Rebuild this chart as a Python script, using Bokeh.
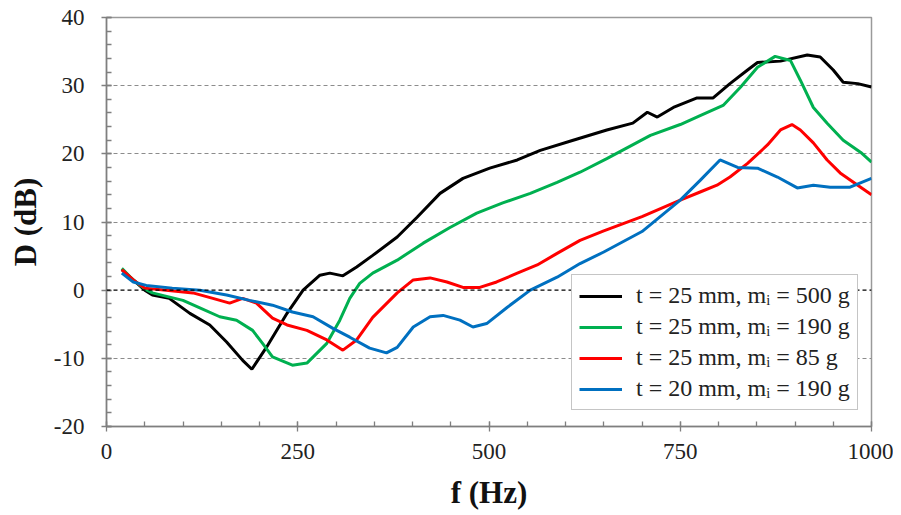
from bokeh.plotting import figure
from bokeh.models import FixedTicker, Span, Legend, LegendItem
from bokeh.embed import file_html
from bokeh.resources import INLINE

# ---- data ----
f_black = [20, 35, 50, 60, 82, 109, 135, 157, 178, 190, 209, 236, 257, 279, 292, 309, 327, 348, 380, 406,
           436, 466, 501, 537, 567, 610, 654, 688, 707, 720, 741, 772, 793, 815, 838, 851, 881, 916, 933,
           950, 963, 982, 1000]
d_black = [3.0, 1.5, 0.0, -0.7, -1.2, -3.4, -5.1, -7.6, -10.3, -11.6, -8.4, -3.4, 0.0, 2.2, 2.5, 2.1, 3.4,
           5.1, 7.8, 10.7, 14.2, 16.4, 17.9, 19.1, 20.5, 22.0, 23.5, 24.5, 26.1, 25.4, 26.8, 28.2, 28.2,
           30.3, 32.3, 33.4, 33.6, 34.5, 34.2, 32.3, 30.5, 30.3, 29.8]

f_green = [20, 35, 50, 60, 100, 122, 148, 170, 191, 204, 217, 243, 262, 288, 305, 318, 331, 348, 380, 414,
           449, 484, 518, 554, 589, 619, 654, 711, 750, 776, 806, 829, 851, 874, 894, 907, 924, 942, 963,
           986, 1000]
d_green = [3.2, 1.5, 0.2, -0.4, -1.5, -2.6, -3.9, -4.4, -5.9, -7.8, -9.8, -11.0, -10.7, -7.8, -4.4, -1.2,
           1.0, 2.5, 4.4, 6.9, 9.2, 11.3, 12.8, 14.2, 15.8, 17.3, 19.3, 22.7, 24.3, 25.6, 27.1, 29.8, 32.7,
           34.3, 33.7, 30.8, 26.8, 24.5, 22.0, 20.2, 18.8]

f_red = [20, 35, 50, 78, 113, 139, 161, 178, 196, 217, 236, 262, 288, 309, 327, 348, 380, 401, 423, 445,
         466, 488, 510, 537, 563, 589, 619, 650, 700, 750, 776, 798, 815, 838, 864, 881, 896, 907, 924,
         942, 959, 982, 1000]
d_red = [3.0, 1.5, 0.3, 0.0, -0.4, -1.2, -1.9, -1.2, -1.9, -4.1, -5.1, -5.9, -7.3, -8.8, -7.3, -4.0, -0.4,
         1.5, 1.8, 1.2, 0.4, 0.4, 1.2, 2.5, 3.7, 5.4, 7.3, 8.7, 10.8, 13.2, 14.4, 15.4, 16.6, 18.6, 21.3,
         23.5, 24.3, 23.5, 21.6, 19.1, 17.2, 15.4, 14.0]

f_blue = [20, 35, 52, 86, 122, 157, 187, 217, 243, 270, 296, 318, 344, 366, 380, 401, 423, 440, 462, 479,
          497, 524, 554, 589, 619, 650, 700, 750, 776, 802, 825, 851, 877, 903, 924, 946, 972, 1000]
d_blue = [2.5, 1.2, 0.7, 0.3, 0.0, -0.7, -1.5, -2.2, -3.2, -3.9, -5.6, -6.9, -8.5, -9.2, -8.4, -5.4, -3.9,
          -3.7, -4.4, -5.4, -4.9, -2.5, 0.0, 1.9, 3.9, 5.6, 8.6, 13.2, 16.1, 19.1, 18.0, 17.9, 16.6, 15.0,
          15.4, 15.1, 15.1, 16.4]

labels = ["t = 25 mm, m\u1d62 = 500 g", "t = 25 mm, m\u1d62 = 190 g",
          "t = 25 mm, m\u1d62 = 85 g", "t = 20 mm, m\u1d62 = 190 g"]
colors = ["#000000", "#00b050", "#ff0000", "#0070c0"]

x_ticks = [0, 250, 500, 750, 1000]
y_ticks = [-20, -10, 0, 10, 20, 30, 40]
grid_ticks = [-10, 10, 20, 30]

SERIF = "Liberation Serif"

p = figure(width=893, height=515, x_range=(0, 1000), y_range=(-20, 40),
           output_backend="svg", toolbar_location=None,
           min_border_left=106, min_border_right=22, min_border_top=17, min_border_bottom=89)

p.outline_line_color = "#9a9a9a"
p.outline_line_width = 1.5

p.xgrid.visible = False
p.ygrid.ticker = FixedTicker(ticks=grid_ticks)
p.ygrid.grid_line_color = "#8c8c8c"
p.ygrid.grid_line_dash = "4 3"
p.ygrid.grid_line_width = 1.2

p.add_layout(Span(location=0, dimension="width", line_color="#000000",
                  line_dash="4 3", line_width=1.3))

p.xaxis.ticker = FixedTicker(ticks=x_ticks, minor_ticks=list(range(0, 1001, 50)))
p.yaxis.ticker = FixedTicker(ticks=y_ticks, minor_ticks=list(range(-20, 41, 2)))
p.yaxis.major_label_overrides = {t: str(t) for t in y_ticks}

for ax in (p.xaxis[0], p.yaxis[0]):
    ax.axis_line_color = "#7f7f7f"
    ax.axis_line_width = 1.5
    ax.major_tick_line_color = "#7f7f7f"
    ax.minor_tick_line_color = "#7f7f7f"
    ax.major_tick_line_width = 1.3
    ax.minor_tick_line_width = 1.3
    ax.major_tick_in = 5
    ax.major_tick_out = 5
    ax.minor_tick_in = 5
    ax.minor_tick_out = 0
    ax.major_label_text_font = SERIF
    ax.major_label_text_font_size = "23px"
    ax.major_label_text_color = "#222222"
    ax.axis_label_text_font = SERIF
    ax.axis_label_text_font_style = "bold"
    ax.axis_label_text_font_size = "31px"
    ax.axis_label_text_color = "#111111"

p.xaxis.axis_label = "f (Hz)"
p.yaxis.axis_label = "D (dB)"
p.xaxis.major_label_standoff = 12
p.yaxis.major_label_standoff = 17
p.xaxis.axis_label_standoff = 13
p.yaxis.axis_label_standoff = 8

series = [(f_black, d_black), (f_green, d_green), (f_red, d_red), (f_blue, d_blue)]
items = []
for (xs, ys), c, lab in zip(series, colors, labels):
    r = p.line(xs, ys, line_color=c, line_width=3)
    items.append(LegendItem(label=lab, renderers=[r]))

legend = Legend(items=items, location=(465, 16))
legend.label_text_font = SERIF
legend.label_text_font_size = "24px"
legend.label_text_color = "#222222"
legend.glyph_width = 43
legend.glyph_height = 24
legend.label_height = 24
legend.spacing = 4
legend.padding = 7
legend.margin = 0
legend.label_standoff = 14
legend.border_line_color = "#8c8c8c"
legend.border_line_width = 1.3
legend.background_fill_alpha = 1
p.add_layout(legend)

open("out.html", "w").write(file_html(p, INLINE))
